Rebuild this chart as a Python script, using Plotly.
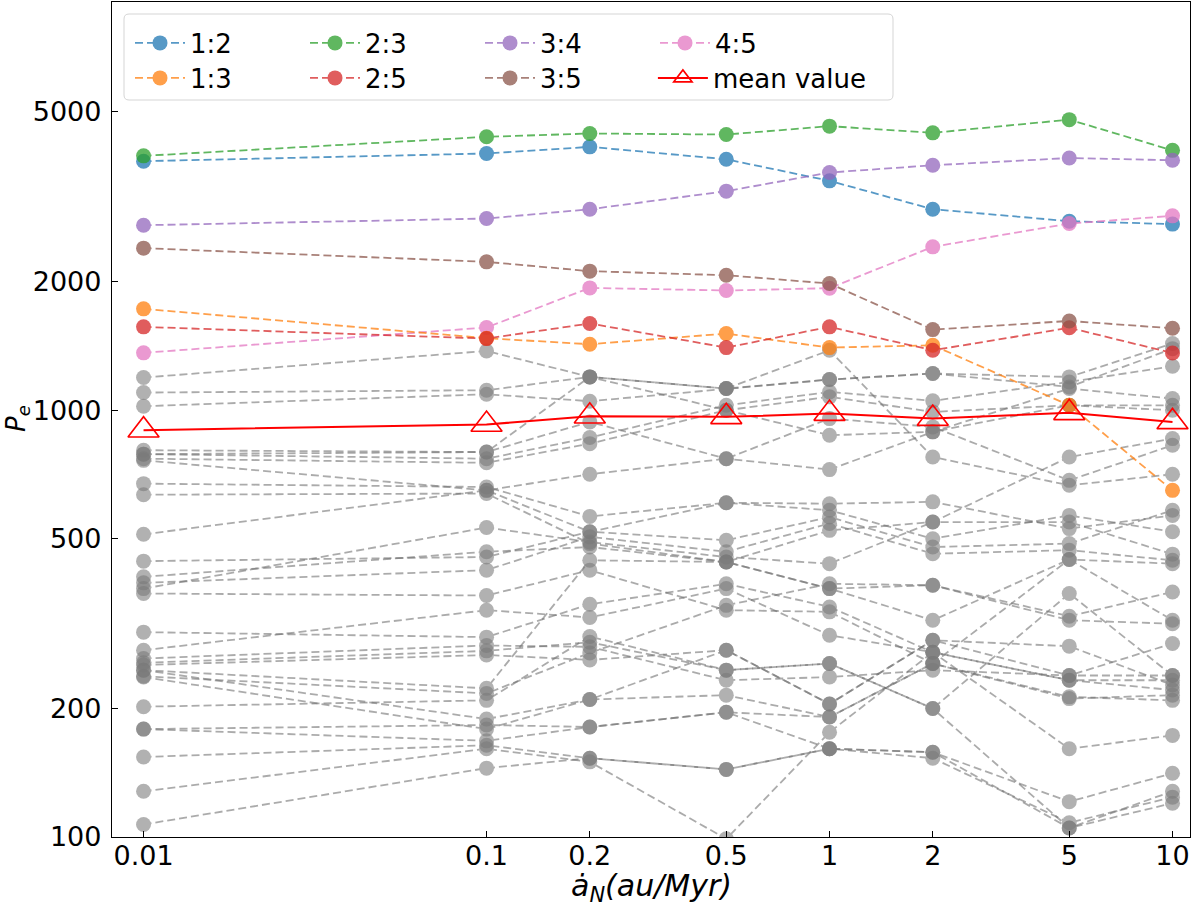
import plotly.graph_objects as go

# x positions (migration rate, au/Myr)
x_vals = [0.01, 0.1, 0.2, 0.5, 1, 2, 5, 10]
x_ticktext = ["0.01", "0.1", "0.2", "0.5", "1", "2", "5", "10"]
y_tickvals = [100, 200, 500, 1000, 2000, 5000]
y_ticktext = ["100", "200", "500", "1000", "2000", "5000"]

# resonance series (P_e)
res_12 = [3833, 3996, 4142, 3873, 3448, 2958, 2773, 2730]
res_13 = [1728, 1475, 1428, 1512, 1402, 1420, 1027, 649]
res_23 = [3945, 4372, 4451, 4426, 4631, 4467, 4797, 4064]
res_25 = [1568, 1472, 1597, 1402, 1568, 1382, 1560, 1362]
res_34 = [2714, 2813, 2958, 3261, 3606, 3750, 3900, 3852]
res_35 = [2398, 2227, 2118, 2072, 1981, 1545, 1619, 1556]
res_45 = [1363, 1563, 1935, 1908, 1932, 2415, 2738, 2854]
mean_value = [898, 926, 968, 965, 982, 956, 986, 939]

# other (gray) resonances
gray_series = [
    [1193, 1377, 1197, 1124, 1382, 777, 667, 708],
    [1100, 1114, 1197, 1000, 874, 890, 1027, 1000],
    [1022, 1090, 1050, 1124, 1180, 1219, 1197, 1433],
    [806, 798, 939, 770, 726, 890, 1124, 1065],
    [789, 770, 863, 1027, 1104, 1052, 1165, 1268],
    [770, 753, 835, 1000, 1075, 991, 1027, 1027],
    [763, 649, 708, 770, 956, 914, 685, 828],
    [673, 661, 564, 607, 604, 610, 528, 567],
    [634, 638, 487, 441, 382, 322, 447, 322],
    [512, 649, 519, 607, 583, 500, 567, 519],
    [443, 453, 519, 496, 562, 478, 487, 583],
    [407, 466, 478, 441, 523, 547, 547, 460],
    [394, 422, 505, 466, 543, 461, 470, 445],
    [382, 531, 491, 453, 437, 547, 777, 858],
    [372, 368, 422, 340, 337, 255, 213, 209],
    [302, 294, 351, 392, 346, 271, 233, 221],
    [274, 340, 327, 382, 297, 271, 161, 173],
    [262, 281, 279, 233, 237, 246, 239, 284],
    [256, 273, 286, 246, 255, 200, 372, 239],
    [253, 267, 260, 274, 205, 289, 280, 227],
    [246, 223, 445, 441, 382, 389, 322, 316],
    [238, 217, 270, 349, 392, 389, 329, 375],
    [237, 179, 210, 215, 191, 255, 211, 215],
    [202, 209, 295, 246, 255, 200, 105, 120],
    [179, 183, 181, 196, 161, 158, 121, 141],
    [154, 164, 153, 144, 161, 153, 108, 124],
    [128, 161, 150, 99, 176, 271, 233, 233],
    [107, 145, 153, 144, 161, 158, 105, 128],
    [246, 189, 210, 274, 205, 289, 239, 239],
    [789, 798, 1197, 1124, 1180, 1219, 1134, 1394],
    [179, 168, 181, 196, 191, 255, 447, 437],
]

colored = [
    ("1:2", res_12, "#1f77b4", "legend"),
    ("2:3", res_23, "#2ca02c", "legend"),
    ("3:4", res_34, "#9467bd", "legend"),
    ("4:5", res_45, "#e377c2", "legend"),
    ("1:3", res_13, "#ff7f0e", "legend2"),
    ("2:5", res_25, "#d62728", "legend2"),
    ("3:5", res_35, "#8c564b", "legend2"),
]

FONT = "DejaVu Sans"
fig = go.Figure()

for ys in gray_series:
    fig.add_trace(go.Scatter(
        x=x_vals, y=ys, mode="lines+markers", showlegend=False,
        line=dict(color="#707070", width=1.8, dash="8px,4px"),
        marker=dict(size=15, color="#7a7a7a"),
        opacity=0.58, hoverinfo="skip"))

for name, ys, col, lg in colored:
    fig.add_trace(go.Scatter(
        x=x_vals, y=ys, mode="lines+markers", name=name, legend=lg,
        line=dict(color=col, width=1.8, dash="8px,4px"),
        marker=dict(size=15, color=col),
        opacity=0.75))

fig.add_trace(go.Scatter(
    x=x_vals, y=mean_value, mode="lines+markers", name="mean value", legend="legend3",
    line=dict(color="#ff0000", width=2),
    marker=dict(symbol="triangle-up-open", size=27, color="#ff0000",
                line=dict(width=1.6, color="#ff0000"))))

L, R, T, B = 112, 10, 2, 73
W, H = 1200, 910
pw, ph = W - L - R, H - T - B

def px_x(p):
    return (p - L) / pw

def px_y(p):
    return 1 - (p - T) / ph

# legend frame (rounded rectangle)
x0, x1 = px_x(124), px_x(893)
y0, y1 = px_y(100), px_y(14)
rx, ry = 5 / pw, 5 / ph
path = (f"M {x0+rx},{y1} L {x1-rx},{y1} Q {x1},{y1} {x1},{y1-ry} "
        f"L {x1},{y0+ry} Q {x1},{y0} {x1-rx},{y0} L {x0+rx},{y0} "
        f"Q {x0},{y0} {x0},{y0+ry} L {x0},{y1-ry} Q {x0},{y1} {x0+rx},{y1} Z")

legend_common = dict(orientation="h", bgcolor="rgba(0,0,0,0)", borderwidth=0,
                     font=dict(family=FONT, size=26, color="black"),
                     itemwidth=50, entrywidth=110, entrywidthmode="pixels",
                     xanchor="left", yanchor="middle", tracegroupgap=0)
legend3_opts = dict(legend_common)
legend3_opts["entrywidth"] = 0

col_step = 174.3
fig.update_layout(
    width=W, height=H,
    margin=dict(l=L, r=R, t=T, b=B, autoexpand=False),
    paper_bgcolor="white", plot_bgcolor="white",
    font=dict(family=FONT, size=26, color="black"),
    showlegend=True,
    legend=dict(x=px_x(130), y=px_y(43), **legend_common),
    legend2=dict(x=px_x(130), y=px_y(78), **legend_common),
    legend3=dict(x=px_x(130 + 3 * col_step), y=px_y(78), **legend3_opts),
    shapes=[dict(type="path", path=path, xref="paper", yref="paper",
                 fillcolor="rgba(255,255,255,0.8)", line=dict(color="#d5d5d5", width=1),
                 layer="above")],
    xaxis=dict(type="log", range=[-2.092, 1.051], tickvals=x_vals, ticktext=x_ticktext,
               ticks="inside", ticklen=6, tickwidth=1.3, tickcolor="black",
               showline=True, linecolor="black", linewidth=1.3, mirror=True,
               showgrid=False, zeroline=False, ticklabelstandoff=-6,
               tickfont=dict(family=FONT, size=27, color="black")),
    yaxis=dict(type="log", range=[2.0, 3.9566], tickvals=y_tickvals, ticktext=y_ticktext,
               ticks="inside", ticklen=6, tickwidth=1.3, tickcolor="black",
               showline=True, linecolor="black", linewidth=1.3, mirror=True,
               showgrid=False, zeroline=False, ticklabelstandoff=4,
               tickfont=dict(family=FONT, size=27, color="black")),
    annotations=[
        dict(text="<i>ȧ</i><sub><i>N</i></sub><i>(au/Myr)</i>", xref="paper", yref="paper",
             x=0.5, y=px_y(887), xanchor="center", yanchor="middle", showarrow=False,
             font=dict(family=FONT, size=30, color="black")),
        dict(text="<i>P</i><sub><i>e</i></sub>", xref="paper", yref="paper",
             x=px_x(17), y=px_y(419), xanchor="center", yanchor="middle", showarrow=False,
             textangle=-90, borderpad=0, font=dict(family=FONT, size=26, color="black")),
    ],
)

fig.write_html("out.html")
